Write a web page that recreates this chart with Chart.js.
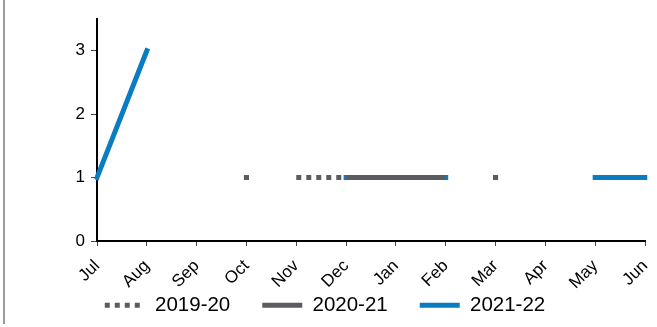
<!DOCTYPE html>
<html>
<head>
<meta charset="utf-8">
<script src="https://cdn.jsdelivr.net/npm/chart.js@4/dist/chart.umd.min.js"></script>
<style>
  html, body { margin: 0; padding: 0; background: #fff; }
  #wrap { position: relative; width: 657px; height: 327px; overflow: hidden; }
  #edge { position: absolute; left: 3px; top: 0; width: 2px; height: 324px; background: #9c9c9c; }
  canvas { position: absolute; left: 0; top: 0; }
</style>
</head>
<body>
<div id="wrap">
  <canvas id="c" width="657" height="327"></canvas>
  <div id="edge"></div>
</div>
<script>
const months = ["Jul", "Aug", "Sep", "Oct", "Nov", "Dec", "Jan", "Feb", "Mar", "Apr", "May", "Jun"];
const seriesNames = ["2019-20", "2020-21", "2021-22"];
const values2019_20 = [null, null, null, null, 1, 1, null, null, 1, null, null, null];
const values2020_21 = [null, null, null, 1, null, 1, 1, 1, null, null, null, null];
const values2021_22 = [1, 3, null, null, null, 1, 1, 1, null, null, 1, 1];
const yTicks = [0, 1, 2, 3];

const GRAY = '#5b5c5f';
const BLUE = '#0a7cc2';
const FAMILY = "'Liberation Sans', Arial, sans-serif";

Chart.defaults.font.family = FAMILY;
Chart.defaults.font.size = 17;
Chart.defaults.color = '#000';

function isolatedRadius(ctx) {
  const d = ctx.dataset.data;
  const i = ctx.dataIndex;
  if (d[i] == null) return 0;
  const prev = i > 0 ? d[i - 1] : null;
  const next = i < d.length - 1 ? d[i + 1] : null;
  return (prev == null && next == null) ? 3.6 : 0;
}

new Chart(document.getElementById('c'), {
  type: 'line',
  data: {
    labels: months,
    datasets: [
      {
        label: seriesNames[0], data: values2019_20,
        borderColor: GRAY, backgroundColor: GRAY, borderWidth: 5,
        borderDash: [5, 5], borderCapStyle: 'butt',
        pointStyle: 'rect', pointRadius: isolatedRadius, pointBorderWidth: 0,
        pointBackgroundColor: GRAY
      },
      {
        label: seriesNames[1], data: values2020_21,
        borderColor: GRAY, backgroundColor: GRAY, borderWidth: 5,
        borderCapStyle: 'butt', pointStyle: 'rect', pointRadius: isolatedRadius,
        pointBorderWidth: 0, pointBackgroundColor: GRAY
      },
      {
        label: seriesNames[2], data: values2021_22,
        borderColor: BLUE, backgroundColor: BLUE, borderWidth: 5,
        borderCapStyle: 'square', pointStyle: 'rect', pointRadius: isolatedRadius,
        pointBorderWidth: 0, pointBackgroundColor: BLUE
      }
    ]
  },
  options: {
    responsive: false,
    animation: false,
    spanGaps: false,
    events: [],
    layout: { padding: { top: 19, right: 12, bottom: 4, left: 5 } },
    plugins: {
      tooltip: { enabled: false },
      legend: {
        position: 'bottom',
        maxHeight: 60,
        labels: {
          usePointStyle: true,
          pointStyle: 'line',
          pointStyleWidth: 40,
          padding: 32,
          color: '#000',
          font: { family: FAMILY, size: 20.5 },
          generateLabels(chart) {
            return chart.data.datasets.map((ds, i) => ({
              text: ds.label,
              strokeStyle: ds.borderColor,
              fillStyle: ds.borderColor,
              lineWidth: 5,
              lineDash: ds.borderDash || [],
              lineCap: 'butt',
              pointStyle: 'line',
              hidden: false,
              datasetIndex: i,
              fontColor: '#000'
            }));
          }
        }
      }
    },
    scales: {
      x: {
        offset: false,
        grid: { display: true, drawOnChartArea: false, drawTicks: true, tickLength: 5, color: '#444', lineWidth: 1 },
        border: { display: true, color: '#000', width: 2 },
        ticks: {
          color: '#000', maxRotation: 45, minRotation: 45, autoSkip: false, padding: 10,
          font: { family: FAMILY, size: 17 }
        },
        afterFit(scale) {
          scale.height = 22;
          scale.paddingLeft = 0;
          scale.paddingRight = 0;
          scale._computeLabelArea = function () { return undefined; };
        }
      },
      y: {
        min: 0, max: 3.5,
        afterBuildTicks(scale) { scale.ticks = yTicks.map(v => ({ value: v })); },
        grid: { display: true, drawOnChartArea: false, drawTicks: true, tickLength: 6, color: '#444', lineWidth: 1 },
        border: { display: true, color: '#000', width: 2 },
        ticks: {
          color: '#000', padding: 6,
          font: { family: FAMILY, size: 17 }
        },
        afterFit(scale) { scale.width = 92; }
      }
    }
  }
});
</script>
</body>
</html>
